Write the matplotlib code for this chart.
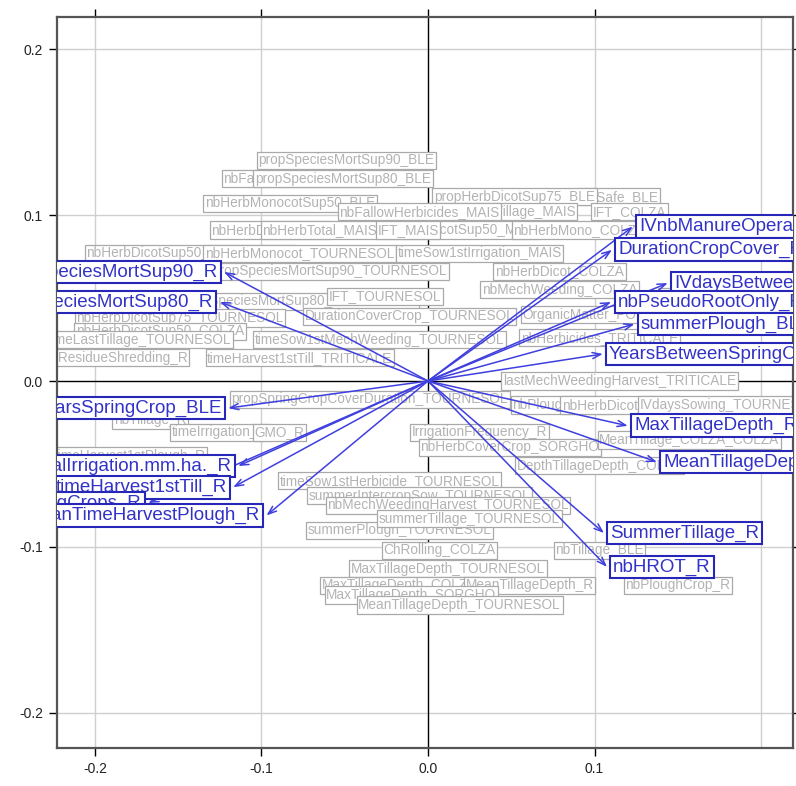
import matplotlib.pyplot as plt
import matplotlib.transforms as mtransforms

plt.rcParams['font.family'] = ['Liberation Sans', 'DejaVu Sans']
plt.rcParams['axes.unicode_minus'] = False

# Loadings of the highlighted variables (arrow tips)
var_names = [
    "propSpeciesMortSup90_R", "propSpeciesMortSup80_R", "nbYearsSpringCrop_BLE",
    "totalIrrigation.mm.ha._R", "timeHarvest1stTill_R", "nbSpringCrops_R",
    "meanTimeHarvestPlough_R", "IVnbManureOperations_R", "DurationCropCover_R",
    "IVdaysBetweenPlough_R", "nbPseudoRootOnly_R", "summerPlough_BLE",
    "YearsBetweenSpringCrop_R", "MaxTillageDepth_R", "MeanTillageDepth_R",
    "SummerTillage_R", "nbHROT_R",
]
var_x = [-0.1225, -0.125, -0.120, -0.114, -0.117, -0.168, -0.097,
         0.123, 0.1105, 0.144, 0.110, 0.124, 0.105, 0.120, 0.1375,
         0.1057, 0.1075]
var_y = [0.0657, 0.0476, -0.0163, -0.0512, -0.064, -0.0735, -0.081,
         0.093, 0.079, 0.059, 0.0476, 0.0343, 0.0163, -0.027, -0.0488,
         -0.0916, -0.112]

# Remaining variables, shown as grey labels in the background
bg_names = [
    "nbFallowHerbicides_BLE", "propSpeciesMortSup90_BLE", "propSpeciesMortSup80_BLE",
    "nbHerbMonocotSup50_BLE", "nbSafe_BLE", "propHerbDicotSup75_BLE",
    "nbFallowTillage_MAIS", "nbFallowHerbicides_MAIS", "IFT_COLZA",
    "nbHerbDicot_MAIS", "nbHerbTotal_MAIS", "nbHerbDicotSup50_MAIS", "IFT_MAIS",
    "nbHerbMono_COLZA", "nbHerbDicotSup50_TOURNESOL", "nbHerbMonocot_TOURNESOL",
    "timeSow1stIrrigation_MAIS", "nbHerbDicot_COLZA", "nbMechWeeding_COLZA",
    "IVdaysPloughing_R", "propSpeciesMortSup80_TOURNESOL",
    "propSpeciesMortSup90_TOURNESOL", "IFT_TOURNESOL", "OrganicMatter_POIS",
    "nbHerbicides_TRITICALE", "nbHerbDicotSup75_TOURNESOL",
    "DurationCoverCrop_TOURNESOL", "nbHerbDicotSup50_COLZA",
    "timeLastTillage_TOURNESOL", "timeSow1stMechWeeding_TOURNESOL",
    "nbCropResidueShredding_R", "timeHarvest1stTill_TRITICALE",
    "lastMechWeedingHarvest_TRITICALE", "propSpringCropCoverDuration_TOURNESOL",
    "nbPlough_POIS", "nbHerbDicot_POIS", "IVdaysSowing_TOURNESOL", "nbTillage_R",
    "timeIrrigation_R", "GMO_R", "IrrigationFrequency_R",
    "nbHerbCoverCrop_SORGHO", "MeanTillage_COLZA_COLZA", "timeHarvest1stPlough_R",
    "DepthTillageDepth_COLZA", "timeSow1stHerbicide_TOURNESOL",
    "summerIntercropSow_TOURNESOL", "nbMechWeedingHarvest_TOURNESOL",
    "summerPlough_TOURNESOL", "summerTillage_TOURNESOL", "ChRolling_COLZA",
    "nbTillage_BLE", "MaxTillageDepth_TOURNESOL", "MaxTillageDepth_COLZA",
    "nbPloughCrop_R", "MeanTillageDepth_R", "MaxTillageDepth_SORGHO",
    "MeanTillageDepth_TOURNESOL",
]
bg_x = [
    -0.077, -0.049, -0.051, -0.083, 0.115, 0.052,
    0.048, -0.005, 0.121,
    -0.095, -0.065, 0.019, -0.012,
    0.091, -0.143, -0.077,
    0.031, 0.079, 0.079,
    0.175, -0.077,
    -0.059, -0.026, 0.095,
    0.103, -0.149,
    -0.011, -0.161,
    -0.173, -0.029,
    -0.197, -0.077,
    0.115, -0.035,
    0.080, 0.115, 0.181, -0.167,
    -0.125, -0.089, 0.031,
    0.049, 0.157, -0.179,
    0.103, -0.023,
    -0.005, 0.012,
    -0.017, 0.025, 0.007,
    0.103, 0.012, -0.017,
    0.150, 0.061, -0.010,
    0.019,
]
bg_y = [
    0.122, 0.133, 0.122, 0.107, 0.111, 0.111,
    0.102, 0.102, 0.102,
    0.091, 0.091, 0.091, 0.091,
    0.091, 0.077, 0.077,
    0.077, 0.066, 0.055,
    0.051, 0.048,
    0.066, 0.051, 0.040,
    0.026, 0.038,
    0.039, 0.030,
    0.025, 0.025,
    0.014, 0.014,
    0.000, -0.011,
    -0.0145, -0.0145, -0.0145, -0.0235,
    -0.031, -0.031, -0.031,
    -0.040, -0.0355, -0.045,
    -0.051, -0.060,
    -0.069, -0.075,
    -0.090, -0.083, -0.102,
    -0.102, -0.113, -0.123,
    -0.123, -0.123, -0.129,
    -0.135,
]

xlim = (-0.2228, 0.2192)
ylim = (-0.2211, 0.2193)
ticks = [-0.2, -0.1, 0.0, 0.1, 0.2]

fig = plt.figure(figsize=(7.96, 7.86), dpi=100)
ax = fig.add_axes([57 / 796, 38 / 786, 736 / 796, 731 / 786])
ax.set_xlim(*xlim)
ax.set_ylim(*ylim)

# grid and zero axes
for t in ticks:
    if t == 0.0:
        continue
    ax.axvline(t, color='#cfcfcf', lw=1.0, zorder=0)
    ax.axhline(t, color='#cfcfcf', lw=1.0, zorder=0)
ax.axvline(0, color='black', lw=1.0, zorder=0.5)
ax.axhline(0, color='black', lw=1.0, zorder=0.5)

ax.set_xticks([-0.2, -0.1, 0.0, 0.1])
ax.set_yticks([-0.2, -0.1, 0.0, 0.1, 0.2])
ax.set_xticklabels(['-0.2', '-0.1', '0.0', '0.1'])
ax.set_yticklabels(['-0.2', '-0.1', '0.0', '0.1', '0.2'])
ax.tick_params(top=True, right=True, direction='out', length=6, width=1.0,
               labelsize=10, labelcolor='#222222', pad=4)
for sp in ax.spines.values():
    sp.set_color('#555555')
    sp.set_linewidth(1.6)

# background labels
for name, x, y in zip(bg_names, bg_x, bg_y):
    t = ax.text(x, y, name, ha='center', va='center', fontsize=9.8,
                color='#b3b3b3', zorder=2, clip_on=True,
                bbox=dict(boxstyle='square,pad=0.12', fc='white',
                          ec='#a9a9a9', lw=0.9))
    t.set_clip_path(ax.patch)

# arrows from the origin
for x, y in zip(var_x, var_y):
    ax.annotate('', xy=(x, y), xytext=(0, 0), zorder=3,
                arrowprops=dict(arrowstyle='->,head_length=0.6,head_width=0.22',
                                color='#3f3fe0', lw=1.1,
                                shrinkA=0, shrinkB=0))

# highlighted labels next to arrow tips
right_off = mtransforms.offset_copy(ax.transData, fig=fig, x=4.5, y=0, units='points')
left_off = mtransforms.offset_copy(ax.transData, fig=fig, x=-4.5, y=0, units='points')
for name, x, y in zip(var_names, var_x, var_y):
    if x >= 0:
        tr, ha = right_off, 'left'
    else:
        tr, ha = left_off, 'right'
    t = ax.text(x, y, name, transform=tr, ha=ha, va='center', fontsize=13.5,
                color='#3232c8', zorder=4, clip_on=True,
                bbox=dict(boxstyle='square,pad=0.15', fc='white',
                          ec='#2626b8', lw=1.5))
    t.set_clip_path(ax.patch)

fig.savefig('out.png', dpi=100)
